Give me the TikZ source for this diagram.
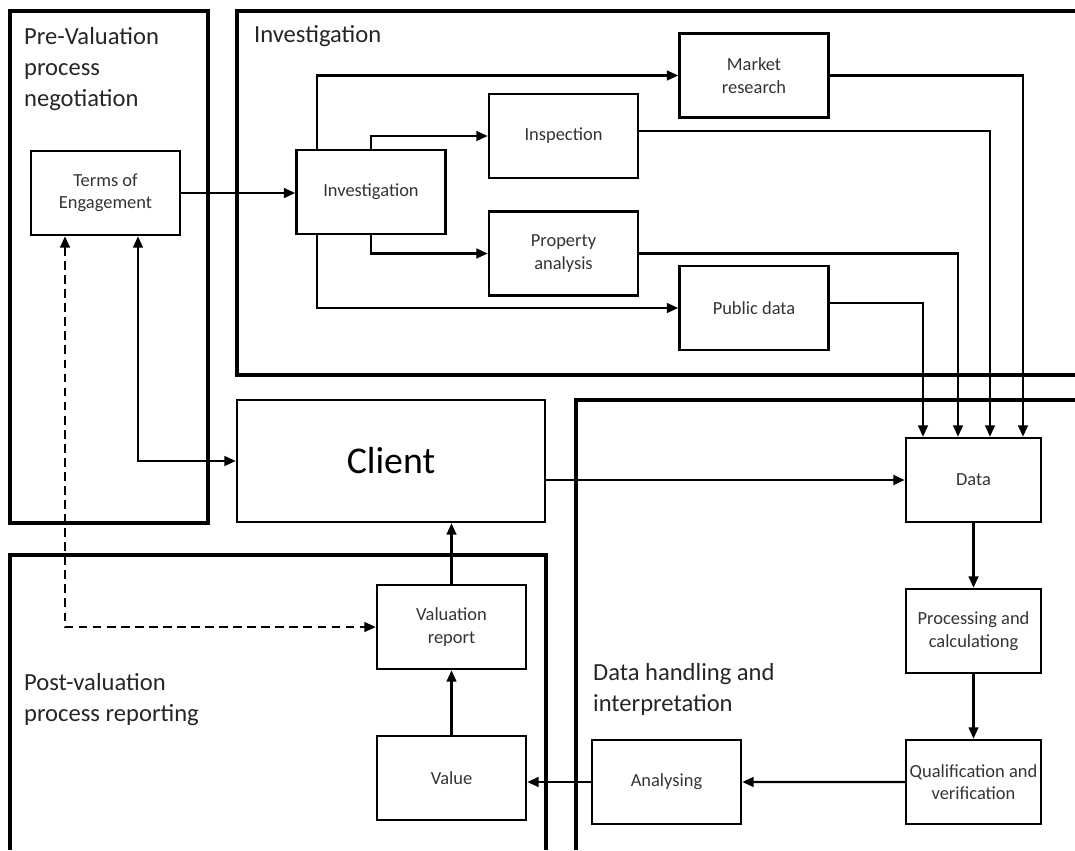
\documentclass[tikz,border=0pt]{standalone}
\usepackage{fontspec}
\setmainfont{Carlito}
\usetikzlibrary{arrows.meta}

\begin{document}
\begin{tikzpicture}[x=0.02cm,y=-0.02cm,>={Triangle[length=6.5pt,width=5.5pt]},line width=1.3pt,node distance=3.02cm,
    box node/.style={rectangle,draw,line width=1.4pt,minimum width=2.98cm,minimum height=1.68cm,align=center,text=black!80,font=\fontsize{10.5}{12.8}\selectfont},
    narrow node/.style={box node,minimum width=2.7cm,inner sep=1pt},
    title node/.style={anchor=north west,inner sep=0pt,align=left,text=black!85,font=\fontsize{14}{17.6}\selectfont},
    frame line/.style={line width=2pt}]

                \useasboundingbox (0,0) rectangle (1075,850);

                \draw[frame line] (10,11) rectangle (208,523);
                \draw[frame line] (1075,11) -- (237,11) -- (237,375) -- (1075,375);
                \draw[frame line] (1075,400) -- (576,400) -- (576,850);
                \draw[frame line] (10,850) -- (10,555) -- (546,555) -- (546,850);

                \node[title node] (t1) at (23,26) {Pre-Valuation\\process\\negotiation};
                \node[title node] (t2) at (253,24) {Investigation};
                \node[title node] (t3) at (23,672) {Post-valuation\\process reporting};
                \node[title node] (t4) at (592,662) {Data handling and\\interpretation};

                \node[box node]  (1) at (105.5,193) {Terms of\\Engagement};
                \node[box node]  (2) at (371,192) {Investigation};
                \node[box node]  (3) at (754,75.5) {Market\\research};
                \node[box node]  (4) at (563.5,136) {Inspection};
                \node[box node]  (5) at (563.5,253.5) {Property\\analysis};
                \node[box node]  (6) at (754,308) {Public data};
                \node[box node, minimum width=6.16cm, minimum height=2.44cm, text=black, font=\fontsize{21.5}{26}\selectfont]  (7) at (391,461) {Client};
                \node[narrow node]  (8) at (973.5,480) {Data};
                \node[narrow node]  (9) [below of = 8] {Processing and\\calculationg};
                \node[narrow node]  (10) [below of = 9] {Qualification and\\verification};
                \node[box node]  (11) at (666.5,782) {Analysing};
                \node[box node]  (12) at (451.5,778) {Value};
                \node[box node]  (13) [above of = 12] {Valuation\\report};

                \draw[->] (1.east) -- (1.east -| 2.west);
                \draw[->] ([xshift=-1.08cm]2.north) |- (3);
                \draw[->] (2.north) |- (4);
                \draw[->] (2.south) |- (5);
                \draw[->] ([xshift=-1.08cm]2.south) |- (6);
                \draw[->] (3) -| ([xshift=0.99cm]8.north);
                \draw[->] ([yshift=0.1cm]4.east) -| ([xshift=0.33cm]8.north);
                \draw[->] (5) -| ([xshift=-0.31cm]8.north);
                \draw[->] ([yshift=0.1cm]6.east) -| ([xshift=-1.01cm]8.north);
                \draw[->] (7.east |- 8.west) -- (8.west);
                \draw[->] (8) -- (9);
                \draw[->] (9) -- (10);
                \draw[->] (10) -- (11);
                \draw[->] (11.west) -- (11.west -| 12.east);
                \draw[->] (12) -- (13);
                \draw[->] (13.north) -- (13.north |- 7.south);
                \draw[<->] ([xshift=0.65cm]1.south) |- (7);
                \draw[<->, dash pattern=on 5pt off 3pt] ([xshift=-0.81cm]1.south) |- (13);

                ;
            \end{tikzpicture}
\end{document}
